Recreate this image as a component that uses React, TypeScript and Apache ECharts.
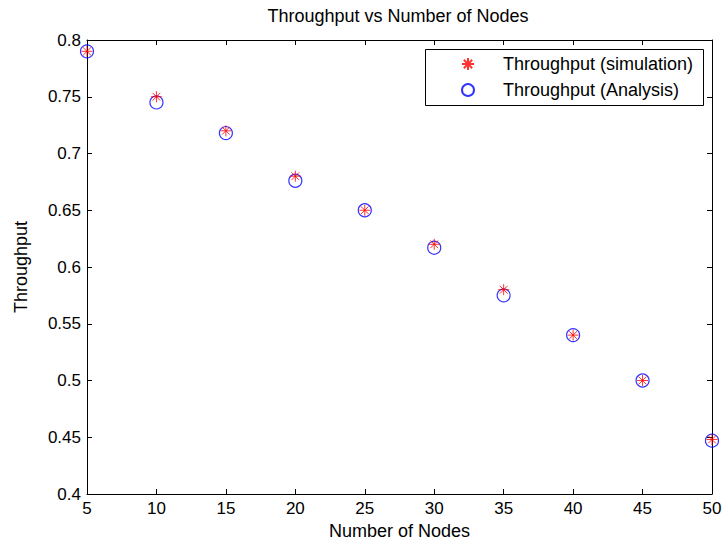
import React, { useEffect, useRef } from "react";
import * as echarts from "echarts";

const nodes = [5, 10, 15, 20, 25, 30, 35, 40, 45, 50];
const simulation = [0.79, 0.75, 0.72, 0.68, 0.65, 0.62, 0.58, 0.54, 0.5, 0.448];
const analysis = [0.79, 0.745, 0.718, 0.676, 0.65, 0.617, 0.575, 0.54, 0.5, 0.447];

const titleText = "Throughput vs Number of Nodes";
const xName = "Number of Nodes";
const yName = "Throughput";
const simName = "Throughput (simulation)";
const anaName = "Throughput (Analysis)";

const FONT = "Liberation Sans, Arial, sans-serif";
const STAR = "path://M6,0 L6,12 M0,6 L12,6 M1.8,1.8 L10.2,10.2 M1.8,10.2 L10.2,1.8";

export default function App() {
  const ref = useRef<HTMLDivElement>(null);
  useEffect(() => {
    if (!ref.current) return;
    document.body.style.margin = "0";
    document.body.style.overflow = "hidden";
    const chart = echarts.init(ref.current, null, { renderer: "svg" });
    const axisLine = { show: true, onZero: false, lineStyle: { color: "#000", width: 1 } };
    const tick = { show: true, inside: true, length: 5, lineStyle: { color: "#000" } };
    chart.setOption({
      animation: false,
      backgroundColor: "#fff",
      title: {
        text: titleText,
        left: 398,
        textAlign: "center",
        top: 7,
        padding: 0,
        textStyle: { fontFamily: FONT, fontSize: 18, fontWeight: "normal", color: "#000" },
      },
      grid: { left: 87, top: 40, right: 10, bottom: 46, containLabel: false, outerBoundsMode: "none" },
      legend: {
        orient: "vertical",
        left: 461,
        top: 55,
        padding: 0,
        itemWidth: 12,
        itemHeight: 12,
        itemGap: 8,
        data: [simName, anaName],
        textStyle: { fontFamily: FONT, fontSize: 18, color: "#000", lineHeight: 18, padding: [0, 0, 0, 24] },
      },
      graphic: [
        {
          type: "rect",
          shape: { x: 425.5, y: 49.5, width: 278, height: 56 },
          style: { fill: "#fff", stroke: "#000", lineWidth: 1 },
          z: 1,
        },
      ],
      xAxis: [
        {
          type: "value",
          min: 5,
          max: 50,
          interval: 5,
          name: xName,
          nameLocation: "middle",
          nameGap: 22,
          nameTextStyle: { fontFamily: FONT, fontSize: 18, color: "#000" },
          axisLine,
          axisTick: tick,
          splitLine: { show: false },
          axisLabel: { fontFamily: FONT, fontSize: 17, color: "#000", margin: 6 },
        },
        {
          type: "value",
          position: "top",
          min: 5,
          max: 50,
          interval: 5,
          axisLine,
          axisTick: tick,
          splitLine: { show: false },
          axisLabel: { show: false },
        },
      ],
      yAxis: [
        {
          type: "value",
          min: 0.4,
          max: 0.8,
          interval: 0.05,
          name: yName,
          nameLocation: "middle",
          nameGap: 57,
          nameTextStyle: { fontFamily: FONT, fontSize: 18, color: "#000" },
          axisLine,
          axisTick: tick,
          splitLine: { show: false },
          axisLabel: { fontFamily: FONT, fontSize: 17, color: "#000", margin: 6 },
        },
        {
          type: "value",
          position: "right",
          min: 0.4,
          max: 0.8,
          interval: 0.05,
          axisLine,
          axisTick: tick,
          splitLine: { show: false },
          axisLabel: { show: false },
        },
      ],
      series: [
        {
          name: simName,
          type: "scatter",
          data: nodes.map((n, i) => [n, simulation[i]]),
          symbol: STAR,
          symbolSize: 11,
          z: 4,
          itemStyle: { color: "rgba(0,0,0,0)", borderColor: "#ff0000", borderWidth: 1 },
        },
        {
          name: anaName,
          type: "scatter",
          data: nodes.map((n, i) => [n, analysis[i]]),
          symbol: "circle",
          symbolSize: 13,
          z: 3,
          itemStyle: { color: "rgba(0,0,0,0)", borderColor: "#0000ff", borderWidth: 1.2 },
        },
      ],
    });
    return () => chart.dispose();
  }, []);
  return (
    <div
      ref={ref}
      style={{ position: "absolute", left: 0, top: 0, width: 722, height: 540, overflow: "hidden" }}
    />
  );
}
